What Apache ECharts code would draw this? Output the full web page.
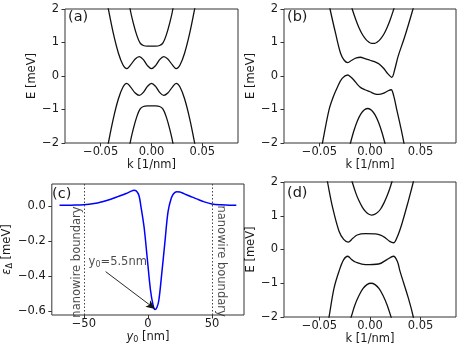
<!DOCTYPE html>
<html>
<head>
<meta charset="utf-8">
<script src="https://cdn.jsdelivr.net/npm/echarts@6/dist/echarts.min.js"></script>
<style>
  html, body { margin: 0; padding: 0; background: #fff; }
  #chart { width: 464px; height: 350px; }
</style>
</head>
<body>
<div id="chart"></div>
<script>
// ---- panel (a) ----
const kA1 = [-0.0225, -0.021, -0.0178, -0.0145, -0.0113, -0.008, -0.004, 0, 0.004, 0.008, 0.0113, 0.0145, 0.0178, 0.021, 0.0225];
const eA1 = [2.4, 2.0, 1.57, 1.22, 0.99, 0.91, 0.89, 0.89, 0.89, 0.91, 0.99, 1.22, 1.57, 2.0, 2.4];
const eA4 = [-2.4, -2.0, -1.57, -1.22, -0.99, -0.91, -0.89, -0.89, -0.89, -0.91, -0.99, -1.22, -1.57, -2.0, -2.4];
const kA2 = [-0.045, -0.0424, -0.0375, -0.0325, -0.028, -0.0243, -0.0205, -0.016, -0.012, -0.008, -0.004, 0, 0.004, 0.008, 0.012, 0.016, 0.0205, 0.0243, 0.028, 0.0325, 0.0375, 0.0424, 0.045];
const eA2 = [2.45, 2.0, 1.27, 0.68, 0.33, 0.22, 0.33, 0.51, 0.58, 0.49, 0.31, 0.22, 0.31, 0.49, 0.58, 0.51, 0.33, 0.22, 0.33, 0.68, 1.27, 2.0, 2.45];
const eA3 = [-2.45, -2.0, -1.27, -0.68, -0.33, -0.22, -0.33, -0.51, -0.58, -0.49, -0.31, -0.22, -0.31, -0.49, -0.58, -0.51, -0.33, -0.22, -0.33, -0.68, -1.27, -2.0, -2.45];

// ---- panel (b) ----
const kB1 = [-0.0195, -0.0176, -0.014, -0.011, -0.0075, -0.0045, -0.0015, 0.0015, 0.0045, 0.0075, 0.0105, 0.0135, 0.0165, 0.0195, 0.0232, 0.025];
const eB1 = [2.21, 2.0, 1.68, 1.45, 1.24, 1.11, 1.02, 0.975, 0.975, 1.02, 1.11, 1.24, 1.42, 1.64, 1.97, 2.15];
const kB2 = [-0.042, -0.0395, -0.034, -0.0291, -0.0255, -0.022, -0.018, -0.0135, -0.0095, -0.005, 0, 0.005, 0.009, 0.0134, 0.0175, 0.0215, 0.0245, 0.0277, 0.0343, 0.0425, 0.045];
const eB2 = [2.4, 2.0, 1.27, 0.68, 0.47, 0.40, 0.47, 0.54, 0.56, 0.52, 0.47, 0.42, 0.36, 0.23, 0.07, -0.04, 0.2, 0.58, 1.17, 2.0, 2.3];
const kB3 = [-0.049, -0.047, -0.0405, -0.036, -0.032, -0.0275, -0.022, -0.019, -0.016, -0.0125, -0.0095, -0.005, 0, 0.0045, 0.0085, 0.013, 0.018, 0.0209, 0.0235, 0.0265, 0.0305, 0.0335, 0.035];
const eB3 = [-2.3, -2.0, -1.01, -0.6, -0.32, -0.07, 0.03, -0.03, -0.12, -0.25, -0.34, -0.41, -0.47, -0.53, -0.55, -0.52, -0.44, -0.41, -0.6, -1.01, -1.55, -2.0, -2.3];
const kB4 = [-0.021, -0.0193, -0.016, -0.0125, -0.009, -0.0055, -0.002, 0.0015, 0.005, 0.0085, 0.012, 0.0147, 0.0165];
const eB4 = [-2.22, -2.0, -1.64, -1.34, -1.13, -1.01, -0.97, -1.02, -1.16, -1.39, -1.70, -2.0, -2.23];

// ---- panel (c) ----
const y0 = [-69, -60, -50, -42, -35.5, -29, -23, -17, -13, -11, -9, -7, -5.5, -3, -0.5, 2, 4, 5.5, 7, 8.5, 10.7, 13.3, 15.7, 18.2, 20, 22.5, 25, 28, 33, 38, 44, 50, 57, 64, 69];
const epsD = [0.004, 0.005, 0.007, 0.014, 0.025, 0.039, 0.055, 0.072, 0.085, 0.09, 0.086, 0.06, 0.0, -0.12, -0.3, -0.48, -0.565, -0.592, -0.58, -0.54, -0.394, -0.204, -0.033, 0.044, 0.07, 0.082, 0.08, 0.071, 0.056, 0.041, 0.024, 0.012, 0.007, 0.005, 0.005];
const boundaries = [-50, 50];

// ---- panel (d) ----
const kD1 = [-0.0195, -0.0176, -0.014, -0.011, -0.0075, -0.0045, -0.0015, 0.0015, 0.0045, 0.0075, 0.0105, 0.0135, 0.0165, 0.0195, 0.0216, 0.0235];
const eD1 = [2.2, 2.0, 1.67, 1.45, 1.25, 1.13, 1.05, 1.02, 1.04, 1.10, 1.2, 1.36, 1.56, 1.8, 2.0, 2.2];
const kD2 = [-0.0445, -0.042, -0.037, -0.0307, -0.026, -0.0216, -0.017, -0.0127, -0.0046, 0.0052, 0.011, 0.015, 0.0195, 0.0232, 0.027, 0.0314, 0.038, 0.0428, 0.045];
const eD2 = [2.4, 2.0, 1.25, 0.55, 0.3, 0.22, 0.33, 0.43, 0.47, 0.46, 0.42, 0.35, 0.24, 0.2, 0.38, 0.75, 1.45, 2.0, 2.3];
const kD3 = [-0.043, -0.0405, -0.0356, -0.0307, -0.026, -0.022, -0.018, -0.0144, -0.0046, 0.0085, 0.0167, 0.0232, 0.027, 0.0297, 0.038, 0.0428, 0.045];
const eD3 = [-2.4, -2.0, -1.15, -0.65, -0.3, -0.2, -0.3, -0.37, -0.45, -0.43, -0.3, -0.2, -0.35, -0.65, -1.45, -2.0, -2.4];
const kD4 = [-0.0205, -0.0185, -0.015, -0.011, -0.007, -0.003, 0.001, 0.005, 0.009, 0.013, 0.017, 0.021, 0.023];
const eD4 = [-2.18, -1.99, -1.65, -1.37, -1.16, -1.04, -1.0, -1.04, -1.16, -1.37, -1.65, -2.02, -2.23];

const kTicks = [-0.05, 0, 0.05];
const y0Ticks = [-50, 0, 50];
const epsTicks = [-0.6, -0.4, -0.2, 0];

const FONT = 'DejaVu Sans';
const INK = '#1a1a1a';
const minus = s => String(s).replace('-', '\u2212');
const zip = (xs, ys) => xs.map((x, i) => [x, ys[i]]);

const chart = echarts.init(document.getElementById('chart'));

const grids = [
  { left: 65, top: 9, width: 173, height: 134 },   // (a)
  { left: 284, top: 9, width: 172, height: 134 },  // (b)
  { left: 44, top: 184, width: 200, height: 131 }, // (c)
  { left: 284, top: 182, width: 172, height: 135 } // (d)
].map(g => Object.assign({ show: true, borderColor: '#333', borderWidth: 1, backgroundColor: 'transparent' }, g));

const tickStyle = { show: true, inside: false, length: 3.5, lineStyle: { color: '#333', width: 1 } };
const labelStyle = { color: INK, fontFamily: FONT, fontSize: 11.5 };
const hiddenLine = { show: false, onZero: false };

function kAxis(gi) {
  return {
    type: 'value', gridIndex: gi, min: -0.085, max: 0.085,
    name: 'k [1/nm]', nameLocation: 'middle', nameGap: 13,
    nameTextStyle: { color: INK, fontFamily: FONT, fontSize: 11.5 },
    axisLine: hiddenLine, splitLine: { show: false },
    axisTick: Object.assign({ customValues: kTicks }, tickStyle),
    axisLabel: Object.assign({ customValues: kTicks, margin: 3, formatter: v => minus(v.toFixed(2)) }, labelStyle)
  };
}
function eAxis(gi) {
  return {
    type: 'value', gridIndex: gi, min: -2, max: 2, interval: 1,
    name: 'E [meV]', nameLocation: 'middle', nameRotate: 90, nameGap: 23,
    nameTextStyle: { color: INK, fontFamily: FONT, fontSize: 11.5 },
    axisLine: hiddenLine, splitLine: { show: false },
    axisTick: tickStyle,
    axisLabel: Object.assign({ margin: 6, formatter: v => minus(v) }, labelStyle)
  };
}

function band(gi, xs, ys) {
  return {
    type: 'line', xAxisIndex: gi, yAxisIndex: gi, data: zip(xs, ys),
    smooth: 0.35, showSymbol: false, clip: true,
    lineStyle: { color: '#111', width: 1.3 }
  };
}

const option = {
  animation: false,
  backgroundColor: '#fff',
  title: [
    ['(a)', 68, 10], ['(b)', 287, 10], ['(c)', 52, 187], ['(d)', 287, 186]
  ].map(([t, l, tp]) => ({
    text: t, left: l, top: tp, padding: 0,
    textStyle: { fontFamily: FONT, fontSize: 14.5, fontWeight: 'normal', color: INK }
  })),
  grid: grids,
  xAxis: [
    kAxis(0), kAxis(1),
    {
      type: 'value', gridIndex: 2, min: -75, max: 75,
      name: '{i|y}{s|0} [nm]', nameLocation: 'middle', nameGap: 13,
      nameTextStyle: {
        color: INK, fontFamily: FONT, fontSize: 11.5,
        rich: {
          i: { fontFamily: FONT, fontSize: 11.5, fontStyle: 'italic', color: INK },
          s: { fontFamily: FONT, fontSize: 8, color: INK, padding: [6, 0, 0, 0] }
        }
      },
      axisLine: hiddenLine, splitLine: { show: false },
      axisTick: Object.assign({ customValues: y0Ticks }, tickStyle),
      axisLabel: Object.assign({ customValues: y0Ticks, margin: 3, formatter: v => minus(v) }, labelStyle)
    },
    kAxis(3)
  ],
  yAxis: [
    eAxis(0), eAxis(1),
    {
      type: 'value', gridIndex: 2, min: -0.623, max: 0.126,
      name: '{i|\u03b5}{s|\u0394} [meV]', nameLocation: 'middle', nameRotate: 90, nameGap: 32,
      nameTextStyle: {
        color: INK, fontFamily: FONT, fontSize: 11.5,
        rich: {
          i: { fontFamily: FONT, fontSize: 11.5, fontStyle: 'italic', color: INK },
          s: { fontFamily: FONT, fontSize: 8, color: INK, padding: [6, 0, 0, 0] }
        }
      },
      axisLine: hiddenLine, splitLine: { show: false },
      axisTick: Object.assign({ customValues: epsTicks }, tickStyle),
      axisLabel: Object.assign({ customValues: epsTicks, margin: 6, formatter: v => minus(v.toFixed(1)) }, labelStyle)
    },
    eAxis(3)
  ],
  series: [
    band(0, kA1, eA1), band(0, kA2, eA2), band(0, kA2, eA3), band(0, kA1, eA4),
    band(1, kB1, eB1), band(1, kB2, eB2), band(1, kB3, eB3), band(1, kB4, eB4),
    band(3, kD1, eD1), band(3, kD2, eD2), band(3, kD3, eD3), band(3, kD4, eD4),
    {
      type: 'line', xAxisIndex: 2, yAxisIndex: 2, data: zip(y0, epsD),
      smooth: 0.35, showSymbol: false,
      lineStyle: { color: '#0000ff', width: 1.5 },
      markLine: {
        silent: true, animation: false,
        symbol: ['none', 'none'],
        data: [
          ...boundaries.map(b => ({
            xAxis: b,
            lineStyle: { color: '#444', type: [1.5, 2], width: 1 }
          })),
          [
            { coord: [-33, -0.375], symbol: 'none' },
            { coord: [5.5, -0.588], symbol: 'arrow', symbolSize: [6, 9] }
          ]
        ],
        lineStyle: { color: '#111', width: 0.9, type: 'solid' },
        label: { show: false }
      }
    },
    {
      // annotation texts, anchored in data coordinates
      type: 'scatter', xAxisIndex: 2, yAxisIndex: 2, symbolSize: 0, silent: true,
      data: [
        { value: [-55, -0.32], label: { formatter: 'nanowire boundary', rotate: 90 } },
        { value: [57, -0.315], label: { formatter: 'nanowire boundary', rotate: -90 } },
        {
          value: [-46.3, -0.318],
          label: {
            formatter: '{a|y}{s|0}{a|=5.5nm}', position: 'right', distance: 0, align: 'left',
            rich: {
              a: { fontFamily: FONT, fontSize: 11.5, color: INK },
              s: { fontFamily: FONT, fontSize: 8, color: INK, padding: [6, 0, 0, 0] }
            }
          }
        }
      ],
      label: {
        show: true, position: 'inside', align: 'center', verticalAlign: 'middle',
        color: INK, fontFamily: FONT, fontSize: 11.5
      }
    }
  ]
};

chart.setOption(option);
</script>
</body>
</html>
